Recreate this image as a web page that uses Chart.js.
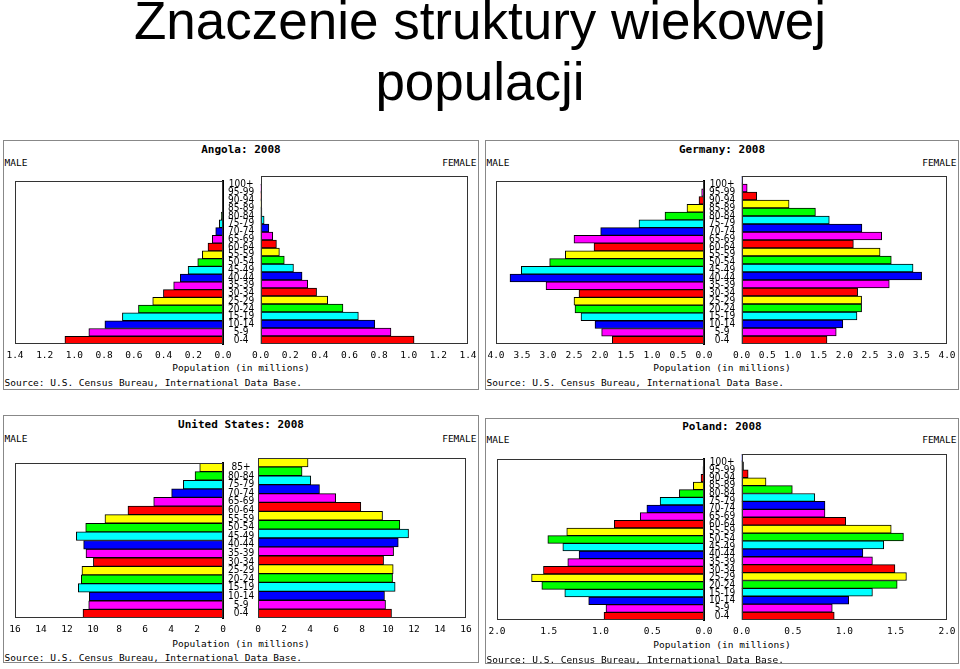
<!DOCTYPE html>
<html><head><meta charset="utf-8">
<script src="https://cdn.jsdelivr.net/npm/chart.js@4"></script>
<style>
html,body{margin:0;padding:0;background:#fff;}
body{width:960px;height:669px;position:relative;overflow:hidden;font-family:'Liberation Sans',Arial,sans-serif;}
.t{position:absolute;white-space:nowrap;}
.main{position:absolute;left:0;width:960px;text-align:center;font-size:53px;line-height:53px;color:#000;}
.panel{position:absolute;border:1.5px solid #888;box-sizing:border-box;background:#fff;}
.mono{font-family:'DejaVu Sans Mono',monospace;font-size:9.5px;line-height:9.5px;color:#000;}
.ttl{font-family:'DejaVu Sans Mono',monospace;font-weight:bold;font-size:11px;line-height:11px;color:#000;}
canvas{position:absolute;}
</style></head><body>
<div class="main" style="top:-6px">Znaczenie struktury wiekowej</div>
<div class="main" style="top:55px">populacji</div>
<script>
// ---- data (millions), ordered from youngest (0-4) to oldest ----
const ages21 = ['0-4','5-9','10-14','15-19','20-24','25-29','30-34','35-39','40-44','45-49','50-54','55-59','60-64','65-69','70-74','75-79','80-84','85-89','90-94','95-99','100+'];
const agesUS = ['0-4','5-9','10-14','15-19','20-24','25-29','30-34','35-39','40-44','45-49','50-54','55-59','60-64','65-69','70-74','75-79','80-84','85+'];

const angolaMale   = [1.064,0.903,0.795,0.677,0.569,0.473,0.401,0.332,0.287,0.235,0.170,0.139,0.101,0.072,0.049,0.025,0.011,0.004,0.002,0.001,0.0];
const angolaFemale = [1.036,0.880,0.771,0.660,0.556,0.453,0.378,0.318,0.280,0.222,0.160,0.127,0.107,0.082,0.056,0.024,0.009,0.004,0.002,0.001,0.0];

const germanyMale   = [1.763,1.968,2.096,2.365,2.481,2.500,2.404,3.038,3.731,3.513,2.968,2.667,2.115,2.500,1.987,1.250,0.750,0.327,0.096,0.045,0.010];
const germanyFemale = [1.663,1.843,1.971,2.247,2.337,2.337,2.260,2.876,3.506,3.339,2.915,2.697,2.177,2.729,2.343,1.708,1.438,0.925,0.295,0.109,0.010];

const usMale   = [10.77,10.33,10.28,11.13,10.90,10.85,9.97,10.54,10.72,11.28,10.56,9.08,7.31,5.33,3.95,3.05,2.15,1.79];
const usFemale = [10.27,9.81,9.73,10.55,10.35,10.40,9.66,10.43,10.79,11.58,10.91,9.58,7.91,5.98,4.73,4.06,3.39,3.85];

const polandMale   = [0.966,0.947,1.114,1.345,1.567,1.666,1.551,1.316,1.207,1.364,1.509,1.326,0.867,0.616,0.552,0.424,0.238,0.103,0.029,0.010,0.002];
const polandFemale = [0.902,0.883,1.043,1.274,1.515,1.605,1.493,1.274,1.181,1.384,1.576,1.457,1.014,0.812,0.812,0.713,0.494,0.238,0.064,0.019,0.002];

// axis tick settings: maximum, step, decimals of tick labels
const angolaTicks  = {max:1.4, step:0.2, decimals:1};
const germanyTicks = {max:4.0, step:0.5, decimals:1};
const usTicks      = {max:16,  step:2,   decimals:0};
const polandTicks  = {max:2.0, step:0.5, decimals:1};

const panelTitles = ['Angola: 2008','Germany: 2008','United States: 2008','Poland: 2008'];

// ---- styles / layout ----
const barColors = ['#ff0000','#ff00ff','#0000ff','#00ffff','#00ff00','#ffff00'];
const monoFont = {family:"'DejaVu Sans Mono', monospace", size:9.5};
const ageFont = {family:"'DejaVu Sans Condensed','Liberation Sans Narrow','DejaVu Sans',sans-serif", size:10};

const panels = [
  {title:panelTitles[0], labels:ages21, male:angolaMale, female:angolaFemale, ticks:angolaTicks,
   box:{x:3,y:140,w:476,h:250}, mL:15,mR:223,fL:258,fR:468,T:176,B:344, ty:149, my:163, py:368, sy:383},
  {title:panelTitles[1], labels:ages21, male:germanyMale, female:germanyFemale, ticks:germanyTicks,
   box:{x:485,y:140,w:474,h:250}, mL:496,mR:704,fL:739,fR:947,T:176,B:344, ty:149, my:163, py:368, sy:383},
  {title:panelTitles[2], labels:agesUS, male:usMale, female:usFemale, ticks:usTicks,
   box:{x:3,y:415,w:476,h:248}, mL:15,mR:223,fL:258,fR:466,T:458,B:618, ty:424, my:439, py:644, sy:658},
  {title:panelTitles[3], labels:ages21, male:polandMale, female:polandFemale, ticks:polandTicks,
   box:{x:485,y:418,w:474,h:246}, mL:497,mR:704,fL:739,fR:947,T:454,B:620, ty:426, my:440, py:645, sy:660}
];

const framePlugin = {
  id:'frame',
  afterDraw(chart){
    const {ctx, chartArea:a} = chart;
    ctx.save();
    ctx.strokeStyle = '#333';
    ctx.lineWidth = 1;
    ctx.strokeRect(Math.round(a.left)+0.5, Math.round(a.top)+0.5, Math.round(a.width)-1, Math.round(a.height)-1);
    ctx.restore();
  }
};

function addText(txt, cls, css){
  const d = document.createElement('div');
  d.className = 't ' + cls;
  d.textContent = txt;
  Object.assign(d.style, css);
  document.body.appendChild(d);
  return d;
}

function makeChart(p, side){
  const padT = 6, axisH = 30, padSide = 20, padIn = 12;
  const isMale = side === 'male';
  const axisW = p.fL - p.mR;
  const plotW = isMale ? (p.mR - p.mL) : (p.fR - p.fL);
  const c = document.createElement('canvas');
  const left = isMale ? p.mL - padSide : p.fL - padIn;
  const width = isMale ? padSide + plotW + axisW : padIn + plotW + padSide;
  const height = padT + (p.B - p.T) + axisH;
  c.width = width; c.height = height;
  c.style.left = left + 'px'; c.style.top = (p.T - padT) + 'px';
  c.style.width = width + 'px'; c.style.height = height + 'px';
  document.body.appendChild(c);
  const values = isMale ? p.male : p.female;
  const tk = p.ticks;
  new Chart(c, {
    type:'bar',
    data:{labels:p.labels, datasets:[{
      data:values,
      backgroundColor: values.map((_, i) => barColors[i % 6]),
      borderColor:'#000', borderWidth:1, borderSkipped:false,
      barPercentage:1, categoryPercentage:1
    }]},
    options:{
      indexAxis:'y', responsive:false, maintainAspectRatio:false, animation:false,
      devicePixelRatio:1,
      layout:{autoPadding:false, padding: isMale
        ? {left:padSide, right:0, top:padT, bottom:0}
        : {left:padIn, right:padSide, top:padT, bottom:0}},
      plugins:{legend:{display:false}, tooltip:{enabled:false}, title:{display:false}},
      scales:{
        x:{type:'linear', min:0, max:tk.max, reverse:isMale, position:'bottom',
           grid:{display:false, drawTicks:false}, border:{display:false},
           ticks:{stepSize:tk.step, autoSkip:false, maxRotation:0, padding:6, color:'#000', font:monoFont,
                  callback:v => Number(v).toFixed(tk.decimals)},
           afterFit:s => { s.height = axisH; }},
        y:{reverse:true, position:'right', display:isMale,
           grid:{display:false, drawTicks:false}, border:{display:true, color:'#000', width:2},
           ticks:{autoSkip:false, crossAlign:'center', padding:5, color:'#000', font:ageFont},
           afterFit:s => { s.width = isMale ? axisW : 0; }}
      }
    },
    plugins:[framePlugin]
  });
}

panels.forEach(p => {
  const b = document.createElement('div');
  b.className = 'panel';
  b.style.left = p.box.x + 'px'; b.style.top = p.box.y + 'px';
  b.style.width = p.box.w + 'px'; b.style.height = p.box.h + 'px';
  document.body.appendChild(b);
  const cx = p.box.x + p.box.w / 2;
  addText(p.title, 'ttl', {left:(cx - 200)+'px', width:'400px', textAlign:'center', top:(p.ty - 5.3)+'px'});
  addText('MALE', 'mono', {left:(p.box.x + 1.5)+'px', top:(p.my - 4.6)+'px'});
  addText('FEMALE', 'mono', {left:(p.box.x + p.box.w - 402.5)+'px', width:'400px', textAlign:'right', top:(p.my - 4.6)+'px'});
  addText('Population (in millions)', 'mono', {left:(cx - 200)+'px', width:'400px', textAlign:'center', top:(p.py - 4.6)+'px'});
  addText('Source: U.S. Census Bureau, International Data Base.', 'mono', {left:(p.box.x + 1.5)+'px', top:(p.sy - 4.6)+'px'});
  makeChart(p, 'male');
  makeChart(p, 'female');
});
</script>
</body></html>
